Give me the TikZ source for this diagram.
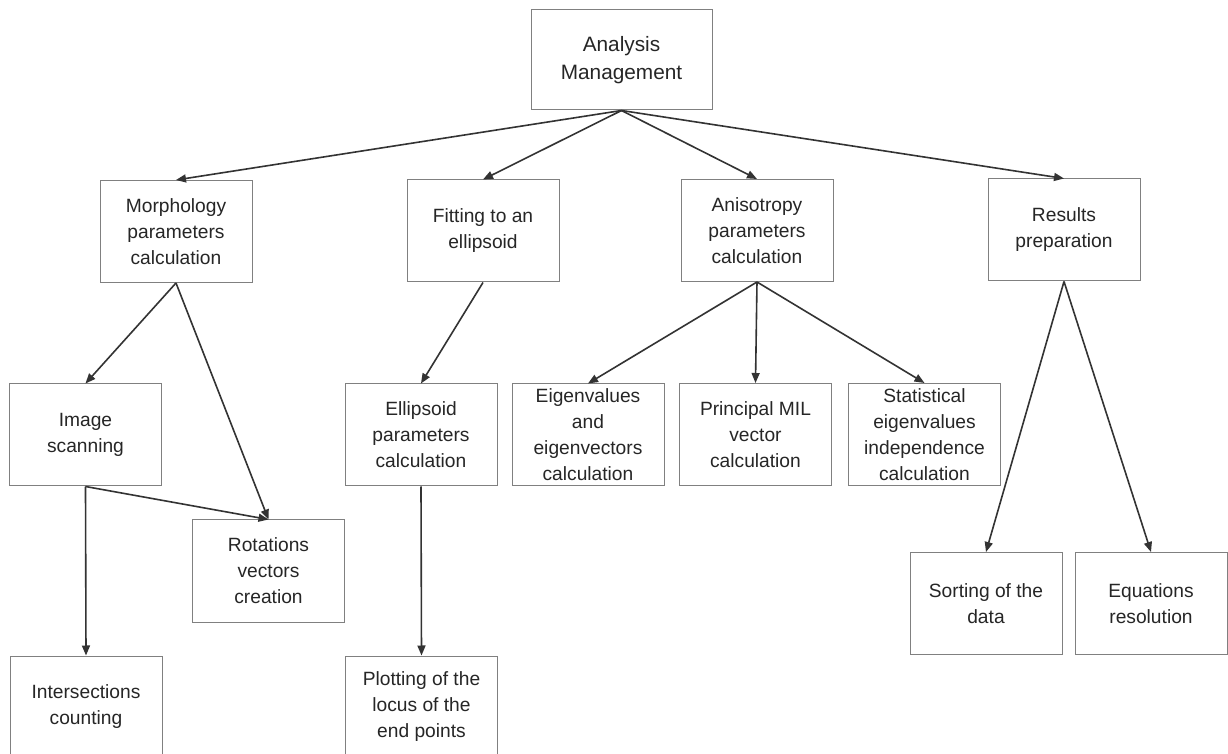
\documentclass[tikz,border=0pt]{standalone}
\usepackage{fontspec}
\setmainfont{Liberation Sans}
\usetikzlibrary{arrows.meta}

\begin{document}
\begin{tikzpicture}[
  x=0.5pt, y=-0.5pt,
  task/.style={
    draw=black!50, fill=white, line width=0.5pt,
    minimum width=76pt, minimum height=51pt,
    inner sep=1pt, align=center, text=black!85,
    font=\fontsize{9.6}{13}\selectfont
  },
  topbox/.style={
    task, minimum width=90.5pt, minimum height=50pt,
    font=\fontsize{10.4}{14}\selectfont
  },
  link/.style={-{Triangle[length=5pt, width=4pt]}, line width=0.8pt, black!80},
]
  \fill[white] (0,0) rectangle (1228,754);
  \useasboundingbox (0,0) rectangle (1228,754);
  \clip (0,0) rectangle (1228,754);

  % top level
  \node[topbox] (MGMT) at (621.5,60) {Analysis\\Management};

  % second row
  \node[task] (MORPH) at (176,231.5) {Morphology\\parameters\\calculation};
  \node[task] (FIT)   at (483,231)   {Fitting to an\\ellipsoid};
  \node[task] (ANISO) at (757,230.5) {Anisotropy\\parameters\\calculation};
  \node[task] (RES)   at (1064,230)  {Results\\preparation};

  % third row
  \node[task] (SCAN)   at (85.5,435)  {Image\\scanning};
  \node[task] (ELLPAR) at (421,435)   {Ellipsoid\\parameters\\calculation};
  \node[task] (EIGEN)  at (588,435)   {Eigenvalues\\and\\eigenvectors\\calculation};
  \node[task] (MIL)    at (755.5,434.5) {Principal MIL\\vector\\calculation};
  \node[task] (STAT)   at (924.5,434.5) {Statistical\\eigenvalues\\independence\\calculation};

  % lower rows
  \node[task] (ROT)   at (268.5,571) {Rotations\\vectors\\creation};
  \node[task] (SORT)  at (986,603.5) {Sorting of the\\data};
  \node[task] (EQN)   at (1151,603.5) {Equations\\resolution};
  \node[task] (INTER) at (86,707)    {Intersections\\counting};
  \node[task] (PLOT)  at (421.5,707) {Plotting of the\\locus of the\\end points};

  % connectors
  \foreach \t in {MORPH,FIT,ANISO,RES} {
    \draw[link] (MGMT.south) -- (\t.north);
  }
  \foreach \t in {SCAN,ROT} {
    \draw[link] (MORPH.south) -- (\t.north);
  }
  \foreach \t in {ROT,INTER} {
    \draw[link] (SCAN.south) -- (\t.north);
  }
  \draw[link] (FIT.south) -- (ELLPAR.north);
  \draw[link] (ELLPAR.south) -- (PLOT.north);
  \foreach \t in {EIGEN,MIL,STAT} {
    \draw[link] (ANISO.south) -- (\t.north);
  }
  \foreach \t in {SORT,EQN} {
    \draw[link] (RES.south) -- (\t.north);
  }
\end{tikzpicture}
\end{document}
